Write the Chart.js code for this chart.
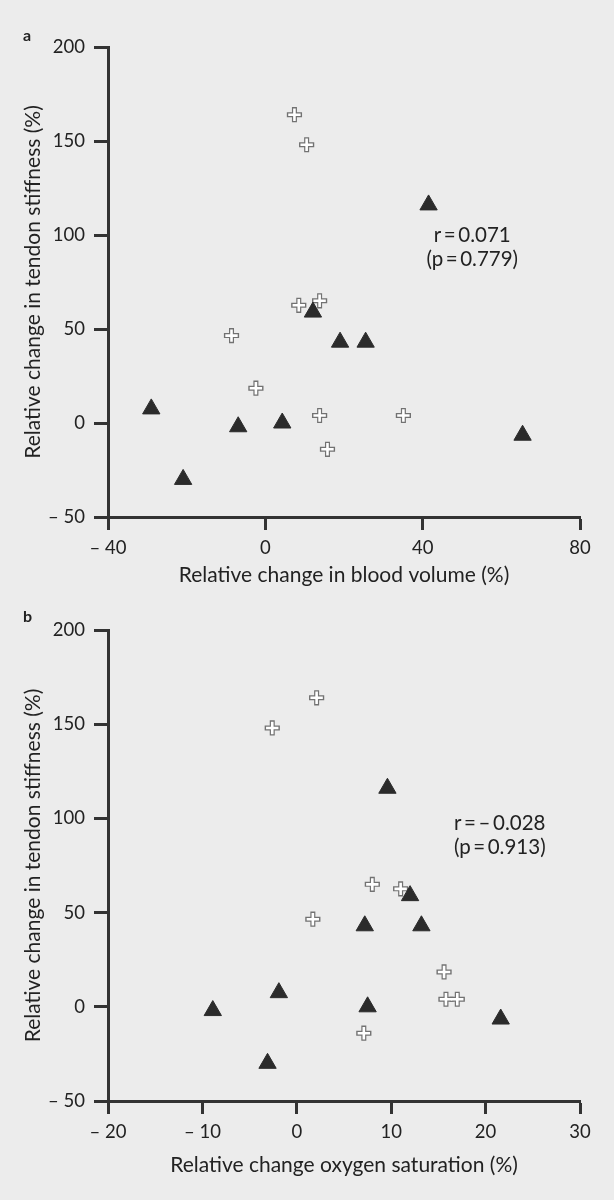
<!DOCTYPE html>
<html>
<head>
<meta charset="utf-8">
<script src="https://cdn.jsdelivr.net/npm/chart.js@4.4.1/dist/chart.umd.min.js"></script>
<style>
  body { margin: 0; background: #ececec; }
  canvas { position: absolute; left: 0; }
  .lbl { position: absolute; left: 23px; font: bold 16px Lato, sans-serif; color: #222; }
</style>
</head>
<body>
<canvas id="chartA" width="614" height="595" style="top:0"></canvas>
<canvas id="chartB" width="614" height="605" style="top:595px"></canvas>
<div class="lbl" style="top:25px">a</div>
<div class="lbl" style="top:606px">b</div>
<script>
// tendon stiffness change (%), same subjects in both panels
const stiffCross = [164, 148, 65, 62.6, 46.5, 18.5, 4, 4, -14];
const stiffTri = [116, 59, 43, 43, 7.5, -2, 0, -6.5, -30];

// panel a: blood volume change (%)
const bloodCross = [7.4, 10.5, 13.8, 8.5, -8.6, -2.4, 13.8, 35.1, 15.8];
const bloodTri = [41.5, 12.1, 19.0, 25.5, -29, -6.9, 4.3, 65.4, -20.9];

// panel b: oxygen saturation change (%)
const oxyCross = [2.1, -2.6, 8.0, 11.0, 1.7, 15.6, 15.8, 17.0, 7.1];
const oxyTri = [9.6, 12.0, 7.2, 13.2, -1.9, -8.9, 7.5, 21.6, -3.1];

const stiffTicks = [-50, 0, 50, 100, 150, 200];
const bloodTicks = [-40, 0, 40, 80];
const oxyTicks = [-20, -10, 0, 10, 20, 30];

const statsA = ['r\u2009=\u20090.071', '(p\u2009=\u20090.779)'];
const statsB = ['r\u2009=\u2009\u2013\u20090.028', '(p\u2009=\u20090.913)'];

const FONT = 'Lato, "Liberation Sans", sans-serif';
const INK = '#222';
const AXIS = '#333';

function fmt(v) {
  return v < 0 ? '\u2013 ' + Math.abs(v) : String(v);
}

function pts(xs, ys) {
  return xs.map((x, i) => ({ x: x, y: ys[i] }));
}

const notePlugin = {
  id: 'note',
  afterDatasetsDraw(chart, args, opts) {
    const { ctx, scales } = chart;
    const px = scales.x.getPixelForValue(opts.at[0]);
    const py = scales.y.getPixelForValue(opts.at[1]);
    ctx.save();
    ctx.font = '20.5px ' + FONT;
    ctx.fillStyle = INK;
    ctx.textAlign = 'center';
    ctx.textBaseline = 'middle';
    opts.lines.forEach((t, i) => ctx.fillText(t, px, py + i * 24));
    ctx.restore();
  }
};

function makeChart(id, xCross, xTri, xTicks, xTitle, lines, at, padTop, xHeight, titlePad) {
  new Chart(document.getElementById(id), {
    type: 'scatter',
    data: {
      datasets: [
        {
          data: pts(xTri, stiffTri), order: 0,
          pointStyle: 'triangle', pointRadius: 10,
          backgroundColor: '#2b2b2b', borderColor: '#2b2b2b', borderWidth: 1
        },
        {
          data: pts(xCross, stiffCross), order: 1,
          pointStyle: 'cross', pointRadius: 6.2,
          borderColor: '#ffffff', borderWidth: 2.6
        },
        {
          data: pts(xCross, stiffCross), order: 2,
          pointStyle: 'cross', pointRadius: 7.6,
          borderColor: '#727272', borderWidth: 5
        }
      ]
    },
    options: {
      responsive: false,
      animation: false,
      events: [],
      layout: { padding: { top: padTop, right: 34, left: 0, bottom: 0 } },
      plugins: {
        legend: { display: false },
        tooltip: { enabled: false },
        note: { lines: lines, at: at }
      },
      scales: {
        x: {
          type: 'linear',
          min: xTicks[0],
          max: xTicks[xTicks.length - 1],
          afterBuildTicks: s => { s.ticks = xTicks.map(v => ({ value: v })); },
          afterFit: s => { s.height = xHeight; },
          border: { color: AXIS, width: 3 },
          grid: { drawOnChartArea: false, tickLength: 13, tickWidth: 3, tickColor: AXIS },
          ticks: { color: INK, font: { family: FONT, size: 18.5 }, padding: 7, autoSkip: false, maxRotation: 0, callback: fmt },
          title: { display: true, text: xTitle, color: INK, font: { family: FONT, size: 21 }, padding: { top: 0, bottom: titlePad } }
        },
        y: {
          type: 'linear',
          min: stiffTicks[0],
          max: stiffTicks[stiffTicks.length - 1],
          afterBuildTicks: s => { s.ticks = stiffTicks.map(v => ({ value: v })); },
          afterFit: s => { s.width = 108; },
          border: { color: AXIS, width: 3 },
          grid: { drawOnChartArea: false, tickLength: 14, tickWidth: 3, tickColor: AXIS },
          ticks: { color: INK, font: { family: FONT, size: 18.5 }, padding: 9, autoSkip: false, callback: fmt },
          title: { display: true, text: 'Relative change in tendon stiffness (%)', color: INK, font: { family: FONT, size: 21 }, padding: { top: 20.4, bottom: 0 } }
        }
      }
    },
    plugins: [notePlugin]
  });
}

makeChart('chartA', bloodCross, bloodTri, bloodTicks, 'Relative change in blood volume (%)',
  statsA, [52.6, 100], 47, 78, 7.4);
makeChart('chartB', oxyCross, oxyTri, oxyTicks, 'Relative change oxygen saturation (%)',
  statsB, [21.5, 97.6], 35, 99, 22.4);
</script>
</body>
</html>
